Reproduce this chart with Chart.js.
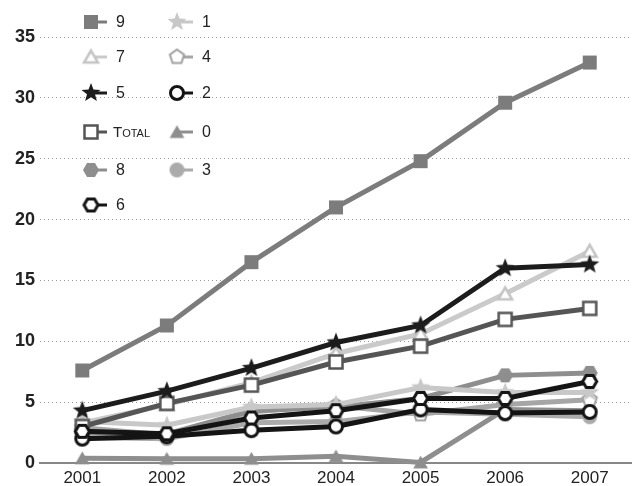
<!DOCTYPE html>
<html>
<head>
<meta charset="utf-8">
<script src="https://cdn.jsdelivr.net/npm/chart.js@4"></script>
<style>
  html, body { margin: 0; padding: 0; background: #fff; overflow: hidden; }
  #wrap { width: 632px; height: 486px; position: relative; }
  canvas { display: block; }
</style>
</head>
<body>
<div id="wrap"><canvas id="chart"></canvas></div>
<script>
const years = ['2001', '2002', '2003', '2004', '2005', '2006', '2007'];

const s9 = [7.6, 11.3, 16.5, 21.0, 24.8, 29.6, 32.9];
const s7 = [3.3, 4.8, 6.6, 9.0, 10.6, 13.9, 17.4];
const s5 = [4.3, 5.9, 7.8, 9.9, 11.3, 16.0, 16.3];
const sTotal = [3.0, 4.9, 6.4, 8.3, 9.6, 11.8, 12.7];
const s8 = [2.5, 2.4, 4.3, 4.6, 5.3, 7.2, 7.4];
const s6 = [2.6, 2.4, 3.7, 4.3, 5.3, 5.3, 6.7];
const s1 = [3.4, 3.1, 4.6, 4.8, 6.2, 5.8, 5.8];
const s4 = [2.9, 2.3, 4.2, 4.7, 4.0, 4.8, 5.2];
const s2 = [2.0, 2.2, 2.7, 3.0, 4.4, 4.1, 4.2];
const s0 = [0.4, 0.35, 0.35, 0.55, 0.05, 4.4, 4.3];
const s3 = [2.1, 2.0, 3.3, 3.4, 4.2, 4.0, 3.8];

const yTicks = [0, 5, 10, 15, 20, 25, 30, 35];

const FONT = '"Liberation Sans", Arial, Helvetica, sans-serif';

// small canvases used as point markers (chart + legend)
function marker(shape, fill, stroke, r, lw) {
  const size = Math.ceil(r * 2 + lw + 2);
  const c = document.createElement('canvas');
  c.width = size; c.height = size;
  const ctx = c.getContext('2d');
  const cx = size / 2, cy = size / 2;
  ctx.beginPath();
  if (shape === 'rect') {
    ctx.rect(cx - r, cy - r, r * 2, r * 2);
  } else if (shape === 'circle') {
    ctx.arc(cx, cy, r, 0, Math.PI * 2);
  } else if (shape === 'star') {
    for (let i = 0; i < 10; i++) {
      const rad = i % 2 === 0 ? r : r * 0.42;
      const a = -Math.PI / 2 + i * Math.PI / 5;
      const px = cx + rad * Math.cos(a), py = cy + rad * Math.sin(a);
      i === 0 ? ctx.moveTo(px, py) : ctx.lineTo(px, py);
    }
    ctx.closePath();
  } else {
    const n = shape === 'triangle' ? 3 : shape === 'pentagon' ? 5 : 6;
    const start = shape === 'hexagon' ? 0 : -Math.PI / 2;
    for (let i = 0; i < n; i++) {
      const a = start + i * 2 * Math.PI / n;
      const px = cx + r * Math.cos(a), py = cy + r * Math.sin(a) + (shape === 'triangle' ? r * 0.2 : 0);
      i === 0 ? ctx.moveTo(px, py) : ctx.lineTo(px, py);
    }
    ctx.closePath();
  }
  ctx.fillStyle = fill;
  ctx.fill();
  if (lw > 0) {
    ctx.lineWidth = lw;
    ctx.strokeStyle = stroke;
    ctx.lineJoin = 'miter';
    ctx.stroke();
  }
  return c;
}

function ds(label, data, color, pt, order) {
  return {
    label: label,
    data: data,
    borderColor: color,
    backgroundColor: color,
    borderWidth: 5,
    pointStyle: pt,
    pointRadius: 8,
    tension: 0,
    clip: false,
    order: order
  };
}

const datasets = [
  ds('9', s9, '#7c7c7c', marker('rect', '#7c7c7c', '#7c7c7c', 7, 0), 3),
  ds('7', s7, '#cacaca', marker('triangle', '#fff', '#c4c4c4', 8, 2.5), 6),
  ds('5', s5, '#1c1c1c', marker('star', '#1c1c1c', '#1c1c1c', 10, 0), 2),
  ds('Total', sTotal, '#555555', marker('rect', '#fff', '#555', 6.5, 2.5), 4),
  ds('8', s8, '#8e8e8e', marker('hexagon', '#8e8e8e', '#8e8e8e', 8, 0), 8),
  ds('6', s6, '#141414', marker('hexagon', '#fff', '#141414', 7, 3), 0),
  ds('1', s1, '#c8c8c8', marker('star', '#c8c8c8', '#c8c8c8', 10, 0), 7),
  ds('4', s4, '#a6a6a6', marker('pentagon', '#fff', '#a0a0a0', 7.5, 2), 9),
  ds('2', s2, '#141414', marker('circle', '#fff', '#141414', 6.5, 3), 1),
  ds('0', s0, '#8e8e8e', marker('triangle', '#8e8e8e', '#8e8e8e', 8.5, 0), 10),
  ds('3', s3, '#ababab', marker('circle', '#ababab', '#ababab', 7.5, 0), 11)
];

// two-column legend drawn in the top-left corner
const legendCols = [
  { x: 91, labels: ['9', '7', '5', 'Total', '8', '6'] },
  { x: 177, labels: ['1', '4', '2', '0', '3'] }
];
const legendRows = [22, 57, 93, 132, 170, 205];

const legendPlugin = {
  id: 'cornerLegend',
  afterDraw(chart) {
    const ctx = chart.ctx;
    ctx.save();
    legendCols.forEach(col => {
      col.labels.forEach((lab, i) => {
        const d = chart.data.datasets.find(x => x.label === lab);
        const y = legendRows[i];
        ctx.strokeStyle = d.borderColor;
        ctx.lineWidth = 3;
        ctx.beginPath();
        ctx.moveTo(col.x, y);
        ctx.lineTo(col.x + 16, y);
        ctx.stroke();
        const img = d.pointStyle;
        ctx.drawImage(img, col.x - img.width / 2, y - img.height / 2);
        ctx.fillStyle = '#222';
        ctx.textBaseline = 'middle';
        ctx.textAlign = 'left';
        if (lab === 'Total') {
          ctx.font = '15px ' + FONT;
          ctx.fillText('T', col.x + 22, y + 1);
          const w = ctx.measureText('T').width;
          ctx.font = '11px ' + FONT;
          ctx.fillText('OTAL', col.x + 22 + w, y + 2);
        } else {
          ctx.font = '16px ' + FONT;
          ctx.fillText(lab, col.x + 25, y + 1);
        }
      });
    });
    ctx.restore();
  }
};

new Chart(document.getElementById('chart'), {
  type: 'line',
  data: { labels: years, datasets: datasets },
  options: {
    responsive: true,
    maintainAspectRatio: false,
    animation: false,
    layout: { autoPadding: false, padding: { top: 37, right: 0, left: 0, bottom: 0 } },
    plugins: {
      legend: { display: false },
      tooltip: { enabled: false }
    },
    scales: {
      x: {
        offset: true,
        grid: { display: false, drawTicks: false },
        border: { display: true, color: '#888', width: 2 },
        ticks: { color: '#222', font: { size: 17, family: FONT }, padding: 5 },
        afterFit(scale) { scale.height = 23; }
      },
      y: {
        min: 0,
        max: 35,
        afterBuildTicks(scale) { scale.ticks = yTicks.map(v => ({ value: v })); },
        grid: {
          drawTicks: false,
          color: c => (c.tick && c.tick.value === 0) ? 'rgba(0,0,0,0)' : '#999',
          lineWidth: 1
        },
        border: { display: false, dash: [1, 3] },
        ticks: { color: '#222', font: { size: 18, weight: 'bold', family: FONT }, padding: 5 },
        afterFit(scale) { scale.width = 40; }
      }
    }
  },
  plugins: [legendPlugin]
});
</script>
</body>
</html>
